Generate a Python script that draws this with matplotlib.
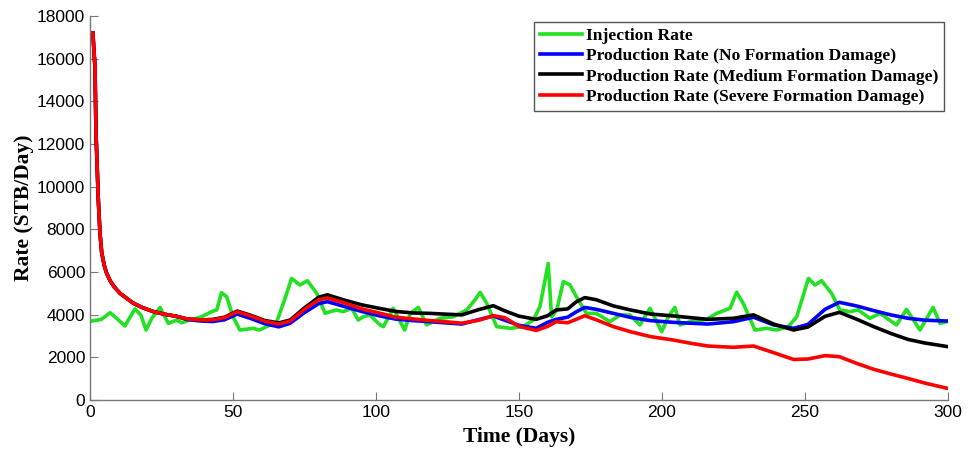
import numpy as np
import matplotlib
matplotlib.use("Agg")
import matplotlib.pyplot as plt

# 注入量（绿色曲线）
t_inj = [0.5, 4, 7, 9.3, 12.2, 15.7, 17.8, 19.6, 21.6, 24.5, 27.4, 30.3, 32, 35, 39, 42.5,
         44.3, 46, 47.8, 50, 52.4, 57, 59.3, 61.8, 65.3, 67.6, 70.5, 73.4, 76, 79.3, 82.2,
         83.9, 86.2, 88.5, 91.5, 93.8, 95.5, 97.9, 101.4, 102.6, 106, 110, 112, 114.8, 117.7,
         122.4, 127, 131.7, 134.6, 136.4, 138.7, 142.2, 146.9, 151.5, 155, 157.3, 159.1, 160.2,
         161.4, 163.2, 165.5, 167.8, 170.7, 173.6, 177, 181.8, 185.3, 188.8, 192.3, 195.8,
         199.9, 202.2, 204.5, 206.3, 209.8, 215.6, 219.1, 223.8, 226.1, 228.4, 232.5, 236.6,
         240.1, 244.2, 247.1, 251.2, 253.5, 255.8, 259.3, 262.2, 265.7, 268.6, 272.7, 276.2,
         282, 285.5, 290.2, 294.8, 297.2, 299.5]
q_inj = [3700, 3780, 4090, 3830, 3470, 4270, 3980, 3280, 3830, 4340, 3590, 3750, 3620, 3750,
         3900, 4140, 4220, 5030, 4840, 3900, 3280, 3360, 3280, 3440, 3670, 4530, 5700, 5390,
         5590, 5000, 4060, 4140, 4220, 4140, 4300, 3750, 3900, 3980, 3520, 3440, 4300, 3280,
         4060, 4340, 3520, 3830, 3900, 4220, 4690, 5050, 4530, 3440, 3360, 3440, 3750, 4370,
         5620, 6400, 3900, 4220, 5550, 5400, 4690, 4060, 4060, 3670, 3980, 3980, 3520, 4300,
         3200, 3900, 4340, 3520, 3670, 3780, 4060, 4300, 5050, 4530, 3280, 3360, 3280, 3440,
         3900, 5700, 5390, 5590, 5000, 4220, 4140, 4220, 3830, 4060, 3520, 4250, 3280, 4340,
         3590, 3670]

# 产量（三种地层伤害情形）
t_prod = [1, 1.75, 2.1, 2.9, 3.5, 4.1, 5, 5.8, 7, 8.5, 10.5, 13, 15, 18, 22, 26, 30, 34, 39,
          43, 47, 51.5, 56, 61, 66, 70, 75, 80, 83, 89, 95, 101, 107, 113, 119, 125, 130, 136,
          141, 145, 150, 156, 160, 163, 167, 170, 173, 177, 183, 189, 196, 204, 210, 216, 225,
          232, 239, 246, 251, 257, 262, 268, 274, 280, 286, 292, 300]
q_none = [17200, 15600, 12500, 9400, 7800, 6900, 6300, 5950, 5600, 5300, 5000, 4750, 4550,
          4350, 4150, 4020, 3930, 3770, 3700, 3680, 3760, 4030, 3830, 3580, 3430, 3600, 4100,
          4520, 4610, 4380, 4150, 3950, 3790, 3720, 3670, 3610, 3560, 3770, 3940, 3740, 3500,
          3360, 3640, 3780, 3880, 4130, 4340, 4250, 4060, 3870, 3720, 3640, 3600, 3560, 3670,
          3880, 3520, 3360, 3540, 4250, 4580, 4410, 4190, 3990, 3830, 3740, 3700]
q_medium = [17200, 15600, 12500, 9400, 7800, 6900, 6300, 5950, 5600, 5300, 5000, 4750, 4550,
            4350, 4150, 4020, 3930, 3800, 3750, 3780, 3880, 4170, 3980, 3730, 3610, 3750, 4320,
            4820, 4930, 4680, 4460, 4300, 4150, 4080, 4060, 4020, 3990, 4240, 4420, 4180, 3930,
            3780, 3950, 4220, 4270, 4600, 4800, 4700, 4410, 4220, 4030, 3940, 3860, 3780, 3830,
            3990, 3560, 3280, 3420, 3920, 4110, 3790, 3440, 3120, 2840, 2670, 2500]
q_severe = [17200, 15600, 12500, 9400, 7800, 6900, 6300, 5950, 5600, 5300, 5000, 4750, 4550,
            4350, 4150, 4020, 3930, 3800, 3750, 3760, 3860, 4140, 3950, 3700, 3560, 3700, 4250,
            4700, 4780, 4550, 4270, 4080, 3880, 3800, 3720, 3660, 3600, 3740, 3950, 3860, 3450,
            3260, 3450, 3670, 3620, 3780, 3950, 3760, 3440, 3200, 2970, 2810, 2660, 2530, 2470,
            2530, 2220, 1900, 1920, 2080, 2030, 1720, 1440, 1220, 1010, 790, 540]

labels = ["Injection Rate",
          "Production Rate (No Formation Damage)",
          "Production Rate (Medium Formation Damage)",
          "Production Rate (Severe Formation Damage)"]

serif_bold = dict(family="Liberation Serif", fontweight="bold")

fig = plt.figure(figsize=(9.74, 4.5), dpi=100)
ax = fig.add_axes([90 / 974, 1 - 400 / 450, 858 / 974, 384 / 450])

lw = 2.6
ax.plot(t_inj, q_inj, color="#22e022", lw=lw, label=labels[0])
ax.plot(t_prod, q_none, color="#0000ff", lw=lw, label=labels[1])
ax.plot(t_prod, q_medium, color="black", lw=lw, label=labels[2])
ax.plot(t_prod, q_severe, color="#ff0000", lw=lw, label=labels[3])

ax.set_xlim(0, 300)
ax.set_ylim(0, 18000)
ax.set_xticks(np.arange(0, 301, 50))
ax.set_yticks(np.arange(0, 18001, 2000))
for s in ["top", "right"]:
    ax.spines[s].set_visible(False)
for s in ["left", "bottom"]:
    ax.spines[s].set_color("#777777")
    ax.spines[s].set_linewidth(1.0)
ax.tick_params(direction="in", length=6, color="#777777", labelsize=12.5,
               labelcolor="black")
for lab in ax.get_xticklabels() + ax.get_yticklabels():
    lab.set_family("Liberation Sans")

ax.set_xlabel("Time (Days)", fontsize=15.5, labelpad=5, **serif_bold)
ax.set_ylabel("Rate (STB/Day)", fontsize=15.5, labelpad=2, **serif_bold)

leg = ax.legend(loc="upper right", bbox_to_anchor=(944 / 974, 1 - 22 / 450),
                bbox_transform=fig.transFigure, borderaxespad=0,
                fancybox=False, framealpha=1, edgecolor="#555555",
                handlelength=2.4, handletextpad=0.2, labelspacing=0.22,
                borderpad=0.35, prop=dict(family="Liberation Serif", weight="bold", size=12.6))
leg.get_frame().set_linewidth(1.0)

fig.savefig("out.png", dpi=100)
